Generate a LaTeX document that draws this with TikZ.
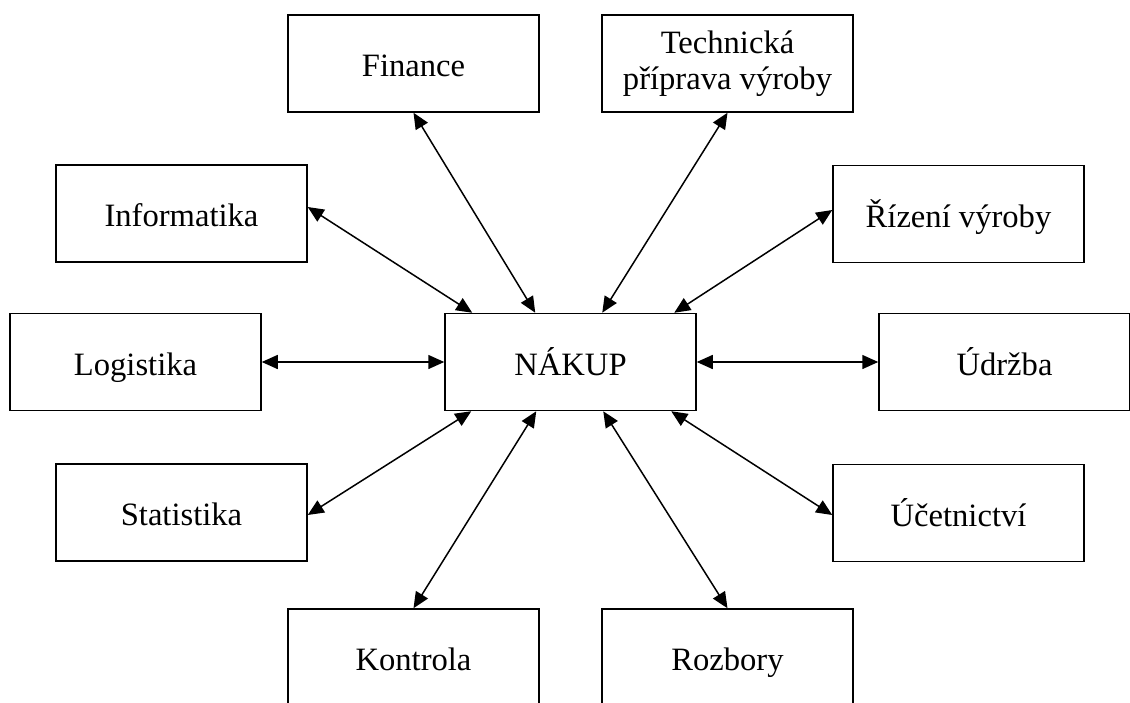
\documentclass[tikz,border=0pt]{standalone}
\usepackage{fontspec}
\setmainfont{Liberation Serif}
\usetikzlibrary{calc,arrows.meta}
\begin{document}
\begin{tikzpicture}[x=0.5pt,y=-0.5pt,
  box/.style={draw=black,line width=0.75pt,minimum width=125.5pt,minimum height=48.5pt,inner sep=0pt,align=center,font=\fontsize{16.3}{18.3}\selectfont},
  one/.style={box,text height=13.2pt,text depth=0pt},
  tip/.style={Triangle[length=8pt,width=7pt]},
  link/.style={line width=0.75pt,{Triangle[length=8pt,width=7pt]}-{Triangle[length=8pt,width=7pt]}}]
\clip (0,0) rectangle (1130,702);
\fill[white] (0,0) rectangle (1130,702);
\node[one] (fin) at (413.5,63.5) {Finance};
\node[box] (tech) at (727.5,63.5) {\raisebox{0pt}{}Technická\\příprava výroby};
\node[one] (info) at (181.5,213.5) {Informatika};
\node[one] (rizeni) at (958.5,214) {Řízení výroby};
\node[one] (log) at (135.5,362) {Logistika};
\node[one] (nakup) at (570.5,362) {NÁKUP};
\node[one] (udrzba) at (1004.5,362) {Údržba};
\node[one] (stat) at (181.5,512.5) {Statistika};
\node[one] (ucet) at (958.5,513) {Účetnictví};
\node[one] (kontrola) at (413.5,657.5) {Kontrola};
\node[one] (rozbory) at (727.5,657.5) {Rozbory};
\draw[link] (fin.south) -- ($(nakup.north west)+(91,0)$);
\draw[link] (tech.south) -- ($(nakup.north west)+(158,0)$);
\draw[link] ($(info.east)+(0,-6.5)$) -- ($(nakup.north west)+(28,0)$);
\draw[link] ($(rizeni.west)+(0,-4)$) -- ($(nakup.north west)+(230,0)$);
\draw[link] (log.east) -- (nakup.west);
\draw[link] (nakup.east) -- (udrzba.west);
\draw[link] ($(stat.east)+(0,2.5)$) -- ($(nakup.south west)+(27,0)$);
\draw[link] ($(ucet.west)+(0,2)$) -- ($(nakup.south west)+(227,0)$);
\draw[link] (kontrola.north) -- ($(nakup.south west)+(92,0)$);
\draw[link] (rozbory.north) -- ($(nakup.south west)+(159,0)$);
\end{tikzpicture}
\end{document}
